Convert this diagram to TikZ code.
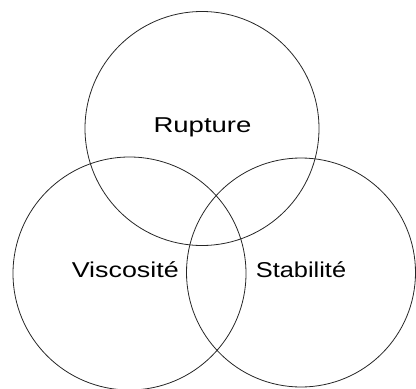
\documentclass[tikz,border=0pt]{standalone}
\usepackage{fontspec}
\setmainfont{Liberation Sans}
\begin{document}
\begin{tikzpicture}[x=1pt,y=-1pt,
  setring/.style={circle, draw=black!85, line width=0.8pt, inner sep=0pt, minimum size=#1},
  setlabel/.style={anchor=base, inner sep=0pt, font=\fontsize{21.5}{24}\selectfont}]
  \useasboundingbox (0,0) rectangle (416,389);
  % the three sets
  \node[setring=234pt] (rupture)    at (202,128.5) {};
  \node[setring=233pt] (viscosite)  at (129.5,273.5) {};
  \node[setring=229pt] (stabilite)  at (301,272.5) {};
  % set names
  \node[setlabel] (lrupture)   at (202.5,132.3) {\scalebox{1.28}[1]{Rupture}};
  \node[setlabel] (lviscosite) at (125.3,277.7) {\scalebox{1.25}[1]{Viscosité}};
  \node[setlabel] (lstabilite) at (301,277.7)   {\scalebox{1.18}[1]{Stabilité}};
\end{tikzpicture}
\end{document}
